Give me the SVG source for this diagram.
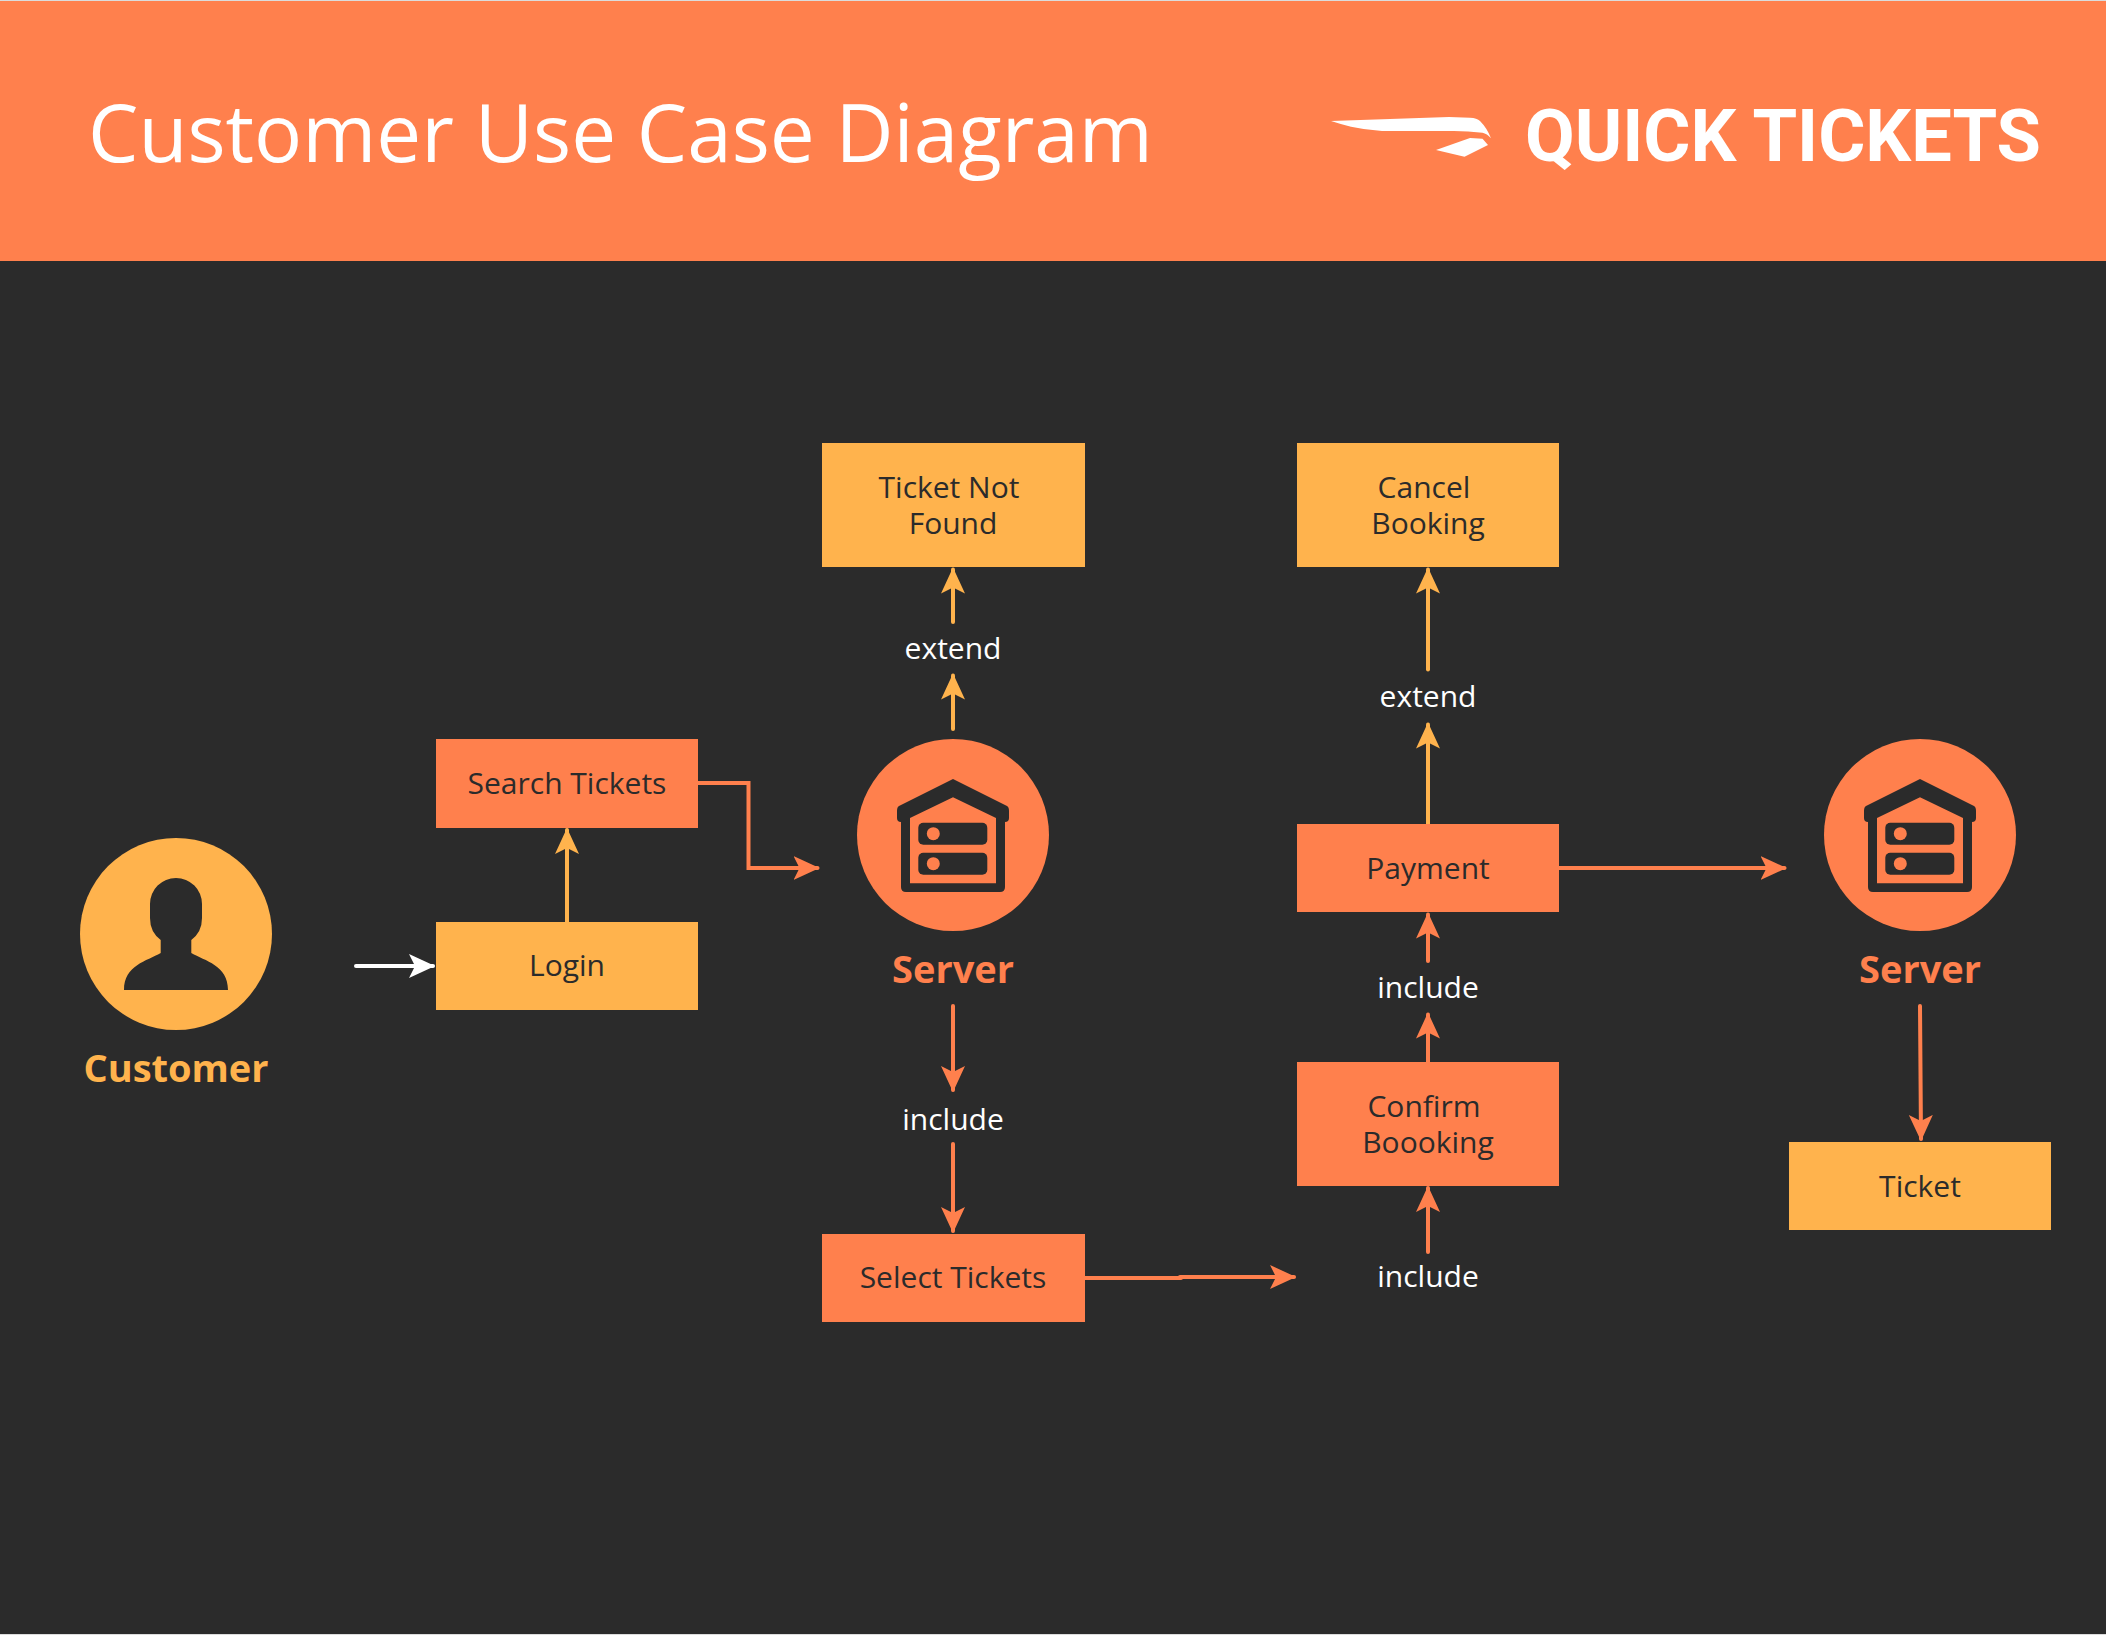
<svg xmlns="http://www.w3.org/2000/svg" width="2106" height="1635" viewBox="0 0 2106 1635">
<style>
text{font-family:"Open Sans","Noto Sans","Liberation Sans",sans-serif;text-anchor:middle}
.o{fill:#ff804d}.y{fill:#ffb34d}.d{fill:#2b2b2b}
.t{font-size:30px;fill:#2b2b2b}
.w{font-size:30px;fill:#fff}
.b{font-size:38px;font-weight:700}
.co,.cy,.cw{fill:none;stroke-width:4;stroke-linecap:round;stroke-linejoin:miter}
.co{stroke:#ff804d;marker-end:url(#ao)}.cy{stroke:#ffb34d;marker-end:url(#ay)}.cw{stroke:#fff;marker-end:url(#aw)}
</style>
<defs>
<marker id="ao" markerUnits="userSpaceOnUse" markerWidth="30" markerHeight="26" refX="24" refY="12" orient="auto"><path d="M0 0L26 12L0 24L6 12Z" fill="#ff804d"/></marker>
<marker id="ay" markerUnits="userSpaceOnUse" markerWidth="30" markerHeight="26" refX="24" refY="12" orient="auto"><path d="M0 0L26 12L0 24L6 12Z" fill="#ffb34d"/></marker>
<marker id="aw" markerUnits="userSpaceOnUse" markerWidth="30" markerHeight="26" refX="24" refY="12" orient="auto"><path d="M0 0L26 12L0 24L6 12Z" fill="#fff"/></marker>
<g id="srv">
<path class="d" fill-rule="evenodd" d="M0 -56L54 -29Q56 -28 56 -24V-17Q56 -13 52 -13V52Q52 57 47 57H-47Q-52 57 -52 52V-13Q-56 -13 -56 -17V-24Q-56 -28 -54 -29ZM0 -37.700L-43 -17V48.300H43V-17Z"/>
<rect x="-34.700" y="-12.300" width="69" height="22" rx="5" class="d"/>
<rect x="-34.700" y="17.700" width="69" height="22" rx="5" class="d"/>
<circle cx="-19.700" cy="-1.300" r="6.500" class="o"/>
<circle cx="-19.700" cy="28.700" r="6.500" class="o"/>
</g>
</defs>
<rect width="2106" height="1635" class="d"/>
<g id="header">
<rect width="2106" height="261" class="o"/>
<rect width="2106" height="1" fill="#dcdcdc"/>
<rect y="1634" width="2106" height="1" fill="#dcdcdc"/>
<text x="88" y="162" style="text-anchor:start;font-size:80px" fill="#fff">Customer Use Case Diagram</text>
<path fill="#fff" d="M1331 121L1449 117L1470 117.700Q1477 118 1480 121Q1487 128 1491 138.300Q1487 133.500 1482.500 132.700Q1468 131 1454 131L1382 131Q1366 130 1351 126.700Q1340 124 1331 121Z"/>
<path fill="#fff" d="M1436 150L1470 138L1482.500 138.700L1488 145L1464.500 156.700Z"/>
<text x="1525" y="161" style="text-anchor:start;font-family:'Roboto','Liberation Sans',sans-serif;font-size:72px;font-weight:700" fill="#fff" textLength="516" lengthAdjust="spacingAndGlyphs">QUICK TICKETS</text>
</g>
<g id="connectors">
<path class="cw" d="M356 966H433"/>
<path class="cy" d="M567 922V830"/>
<path class="co" d="M698 783H748.500V868H817.500"/>
<path class="cy" d="M953 729V675.500"/>
<path class="cy" d="M953 622V569.500"/>
<path class="co" d="M953 1006V1090"/>
<path class="co" d="M953 1144V1231"/>
<path class="co" style="marker-end:none" d="M1085 1278H1181"/>
<path class="co" d="M1180 1277H1294"/>
<path class="co" d="M1428 1252V1188"/>
<path class="co" d="M1428 1062V1014.500"/>
<path class="co" d="M1428 961V914.500"/>
<path class="cy" d="M1428 824V724.500"/>
<path class="cy" d="M1428 669.500V569.500"/>
<path class="co" d="M1559 868H1784.500"/>
<path class="co" d="M1920 1006L1921 1139"/>
</g>
<g id="customer"><circle cx="176" cy="934" r="96" class="y"/>
<path class="d" d="M150 904A26 26 0 0 1 202 904V918Q202 932 191.300 940V953C205 961 228 965 228 990H124C124 965 147 961 160.700 953V940Q150 932 150 918Z"/>
<text x="176" y="1082" class="b y">Customer</text></g>
<g id="login"><rect x="436" y="922" width="262" height="88" class="y"/><text x="567" y="976" class="t">Login</text></g>
<g id="search-tickets"><rect x="436" y="739" width="262" height="89" class="o"/><text x="567" y="794" class="t">Search Tickets</text></g>
<g id="server-1"><circle cx="953" cy="835" r="96" class="o"/><use href="#srv" x="953" y="835"/><text x="953" y="983" class="b o">Server</text></g>
<g id="ticket-not-found"><rect x="822" y="443" width="263" height="124" class="y"/><text class="t"><tspan x="949" y="498">Ticket Not</tspan><tspan x="953" y="534">Found</tspan></text></g>
<g id="extend-1"><text x="953" y="659" class="w">extend</text></g>
<g id="include-1"><text x="953" y="1130" class="w">include</text></g>
<g id="select-tickets"><rect x="822" y="1234" width="263" height="88" class="o"/><text x="953" y="1288" class="t">Select Tickets</text></g>
<g id="include-2"><text x="1428" y="1287" class="w">include</text></g>
<g id="confirm-booking"><rect x="1297" y="1062" width="262" height="124" class="o"/><text class="t"><tspan x="1424" y="1117">Confirm</tspan><tspan x="1428" y="1153">Boooking</tspan></text></g>
<g id="include-3"><text x="1428" y="998" class="w">include</text></g>
<g id="payment"><rect x="1297" y="824" width="262" height="88" class="o"/><text x="1428" y="879" class="t">Payment</text></g>
<g id="extend-2"><text x="1428" y="707" class="w">extend</text></g>
<g id="cancel-booking"><rect x="1297" y="443" width="262" height="124" class="y"/><text class="t"><tspan x="1424" y="498">Cancel</tspan><tspan x="1428" y="534">Booking</tspan></text></g>
<g id="server-2"><circle cx="1920" cy="835" r="96" class="o"/><use href="#srv" x="1920" y="835"/><text x="1920" y="983" class="b o">Server</text></g>
<g id="ticket"><rect x="1789" y="1142" width="262" height="88" class="y"/><text x="1920" y="1197" class="t">Ticket</text></g>
</svg>
